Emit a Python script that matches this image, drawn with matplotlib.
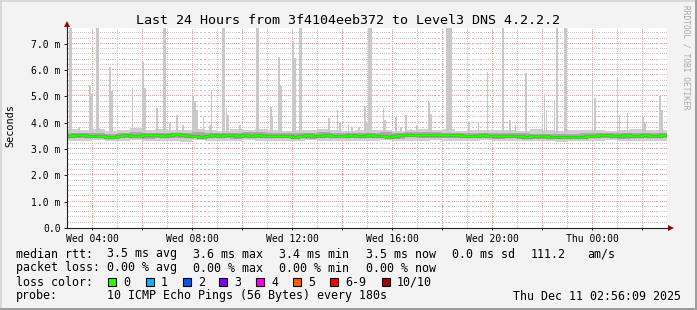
import matplotlib
matplotlib.use("Agg")
import matplotlib.pyplot as plt
import numpy as np
from matplotlib.patches import Rectangle

# ---------------- data (times in hours since Wed 00:00, values in ms) ----------------
start_hour = 3.0
end_hour = 27.0

median_step_min = 15
median_ms = [
    3.50, 3.52, 3.54, 3.51, 3.50, 3.49, 3.46, 3.47, 3.50, 3.52, 3.50, 3.51,
    3.53, 3.55, 3.52, 3.50, 3.54, 3.56, 3.52, 3.50, 3.49, 3.47, 3.50, 3.52,
    3.51, 3.53, 3.52, 3.50, 3.52, 3.51, 3.53, 3.50, 3.49, 3.51, 3.50, 3.48,
    3.47, 3.50, 3.52, 3.51, 3.50, 3.52, 3.50, 3.51, 3.49, 3.52, 3.50, 3.51,
    3.53, 3.50, 3.49, 3.47, 3.50, 3.53, 3.52, 3.54, 3.53, 3.55, 3.54, 3.53,
    3.55, 3.54, 3.52, 3.50, 3.51, 3.50, 3.52, 3.51, 3.50, 3.49, 3.51, 3.50,
    3.48, 3.47, 3.49, 3.48, 3.50, 3.47, 3.46, 3.45, 3.46, 3.44, 3.47, 3.48,
    3.49, 3.52, 3.53, 3.51, 3.50, 3.52, 3.51, 3.50, 3.52, 3.50, 3.51, 3.52,
]

band_step_min = 30
outer_hi_ms = [
    3.78, 3.72, 3.75, 3.70, 3.74, 3.80, 3.72, 3.76, 3.71, 3.74, 3.77, 3.72,
    3.70, 3.75, 3.73, 3.78, 3.72, 3.70, 3.74, 3.71, 3.76, 3.73, 3.70, 3.72,
    3.74, 3.71, 3.69, 3.73, 3.75, 3.72, 3.76, 3.70, 3.73, 3.71, 3.74, 3.72,
    3.70, 3.75, 3.72, 3.69, 3.73, 3.71, 3.74, 3.70, 3.72, 3.75, 3.71, 3.73,
]
outer_lo_ms = [
    3.32, 3.30, 3.33, 3.29, 3.31, 3.34, 3.30, 3.32, 3.31, 3.28, 3.33, 3.31,
    3.30, 3.32, 3.34, 3.31, 3.29, 3.32, 3.30, 3.33, 3.31, 3.30, 3.32, 3.29,
    3.31, 3.33, 3.30, 3.32, 3.31, 3.34, 3.32, 3.30, 3.31, 3.33, 3.30, 3.32,
    3.29, 3.31, 3.30, 3.28, 3.30, 3.32, 3.31, 3.33, 3.30, 3.32, 3.31, 3.30,
]
inner_hi_ms = [
    3.61, 3.60, 3.62, 3.59, 3.60, 3.63, 3.61, 3.60, 3.62, 3.61, 3.64, 3.62,
    3.60, 3.61, 3.63, 3.65, 3.62, 3.61, 3.60, 3.62, 3.63, 3.61, 3.62, 3.60,
    3.61, 3.63, 3.62, 3.64, 3.65, 3.63, 3.62, 3.61, 3.62, 3.60, 3.61, 3.62,
    3.60, 3.59, 3.58, 3.57, 3.59, 3.62, 3.61, 3.62, 3.60, 3.61, 3.62, 3.61,
]
inner_lo_ms = [
    3.42, 3.41, 3.43, 3.40, 3.41, 3.42, 3.40, 3.43, 3.41, 3.42, 3.44, 3.42,
    3.41, 3.40, 3.43, 3.42, 3.41, 3.43, 3.42, 3.40, 3.42, 3.41, 3.43, 3.42,
    3.41, 3.42, 3.40, 3.44, 3.43, 3.42, 3.41, 3.43, 3.42, 3.41, 3.40, 3.42,
    3.39, 3.38, 3.37, 3.38, 3.40, 3.42, 3.41, 3.42, 3.40, 3.41, 3.42, 3.41,
]

# individual high pings (smoke spikes)
spike_hour = [
    3.14, 3.48, 3.92, 4.00, 4.20, 4.28, 4.72, 4.80, 5.62, 6.04, 6.12, 6.60,
    6.90, 7.12, 7.40, 7.64, 8.04, 8.12, 8.20, 8.46, 8.72, 8.78, 8.84, 9.24,
    9.38, 9.44, 9.92, 10.20, 10.62, 11.16, 11.22, 11.48, 11.56, 11.84, 12.04, 12.12,
    12.34, 13.02, 13.48, 13.82, 13.90, 14.26, 14.40, 14.68, 14.92, 15.00, 15.12, 15.66,
    15.72, 15.96, 16.16, 16.36, 16.56, 16.76, 17.00, 17.48, 17.56, 18.20, 18.34, 18.62,
    19.08, 19.46, 19.82, 20.44, 20.72, 20.94, 21.36, 22.02, 22.10, 22.18, 22.50, 22.60,
    22.94, 24.02, 24.10, 24.94, 25.02, 25.08, 25.42, 26.04, 26.12, 26.72, 26.80,
]
spike_top_ms = [
    7.6, 3.84, 5.44, 5.10, 7.6, 3.80, 6.10, 5.20, 5.33, 6.32, 5.33, 4.57,
    7.6, 4.00, 4.30, 3.90, 5.00, 4.83, 4.50, 4.20, 3.90, 5.25, 4.60, 7.6,
    4.55, 4.30, 3.90, 4.00, 7.6, 4.60, 4.20, 6.50, 5.40, 3.70, 7.07, 6.45,
    7.6, 3.84, 4.17, 4.50, 4.00, 3.90, 3.84, 3.84, 4.63, 4.00, 7.6, 4.57,
    4.10, 3.70, 4.20, 3.84, 4.30, 3.77, 3.90, 4.80, 4.33, 7.6, 7.6, 3.70,
    4.00, 3.98, 5.93, 7.6, 4.10, 3.90, 5.90, 4.20, 5.10, 4.50, 4.87, 7.6,
    7.6, 5.60, 4.95, 3.60, 5.75, 4.30, 4.37, 4.20, 4.00, 5.00, 4.50,
]
spike_width_min = [
    7.2, 4.8, 4.8, 3.6, 7.2, 2.4, 4.8, 3.6, 3.6, 4.8, 3.6, 3.6,
    7.2, 4.8, 3.6, 3.6, 4.8, 4.8, 3.6, 3.6, 3.6, 3.6, 2.4, 7.2,
    3.6, 3.6, 3.6, 2.4, 7.2, 3.6, 2.4, 4.8, 3.6, 2.4, 4.8, 4.8,
    7.2, 3.6, 3.6, 3.6, 4.8, 3.6, 3.6, 3.6, 4.8, 4.8, 9.6, 3.6,
    3.6, 2.4, 3.6, 3.6, 3.6, 3.6, 3.6, 4.8, 3.6, 7.2, 7.2, 3.6,
    4.8, 3.6, 3.6, 6.0, 4.8, 3.6, 4.8, 3.6, 3.6, 3.6, 3.6, 6.0,
    8.4, 3.6, 4.8, 3.6, 3.6, 2.4, 3.6, 4.8, 3.6, 4.8, 3.6,
]

xtick_hours = [4, 8, 12, 16, 20, 24]
xtick_labels = ["Wed 04:00", "Wed 08:00", "Wed 12:00", "Wed 16:00", "Wed 20:00", "Thu 00:00"]
ytick_values = [0, 1, 2, 3, 4, 5, 6, 7]
ytick_labels = ["0.0", "1.0 m", "2.0 m", "3.0 m", "4.0 m", "5.0 m", "6.0 m", "7.0 m"]

rtt_names = ["avg", "max", "min", "now"]
rtt_values = [3.5, 3.6, 3.4, 3.5]
loss_values = [0.00, 0.00, 0.00, 0.00]
rtt_sd = 0.0
rtt_am_s = 111.2
loss_names = ["0", "1", "2", "3", "4", "5", "6-9", "10/10"]
loss_colors = ["#26ff00", "#00b8ff", "#0059ff", "#7e00ff", "#ff00ea", "#ff5e00", "#ff0000", "#a10000"]
probe_text = "10 ICMP Echo Pings (56 Bytes) every 180s"
stamp_text = "Thu Dec 11 02:56:09 2025"
title_text = "Last 24 Hours from 3f4104eeb372 to Level3 DNS 4.2.2.2"

# ---------------- figure ----------------
W, H = 697, 310
MONO = "DejaVu Sans Mono"
plt.rcParams["font.family"] = [MONO, "DejaVu Sans"]

fig = plt.figure(figsize=(W / 100, H / 100), dpi=100, facecolor="#f3f3f3")

def fx(px):
    return px / W

def fy(py):
    return 1 - py / H

# 3D style frame
fig.add_artist(Rectangle((0, fy(2)), 1, 2 / H, transform=fig.transFigure, color="#d8d8d8", lw=0))
fig.add_artist(Rectangle((0, 0), 2 / W, 1, transform=fig.transFigure, color="#d8d8d8", lw=0))
fig.add_artist(Rectangle((0, 0), 1, 2 / H, transform=fig.transFigure, color="#9e9e9e", lw=0))
fig.add_artist(Rectangle((fx(W - 2), 0), 2 / W, 1, transform=fig.transFigure, color="#9e9e9e", lw=0))

AX_L, AX_B, AX_W, AX_H = 67, 228, 600, 200   # pixels (left, bottom-from-top, width, height)
ax = fig.add_axes([fx(AX_L), fy(AX_B), AX_W / W, AX_H / H])
ax.set_facecolor("white")
ax.set_xlim(start_hour, end_hour)
ax.set_ylim(0, 7.6)

# smoke
t_band = start_hour + np.arange(len(outer_hi_ms) + 1) * band_step_min / 60
ax.fill_between(t_band, outer_lo_ms + [outer_lo_ms[-1]], outer_hi_ms + [outer_hi_ms[-1]],
                step="post", color="#cfcfcf", lw=0, zorder=2)
ax.bar(spike_hour, np.array(spike_top_ms) - 3.45, bottom=3.45,
       width=np.array(spike_width_min) / 60, color="#c9c9c9", lw=0, zorder=2)
ax.fill_between(t_band, inner_lo_ms + [inner_lo_ms[-1]], inner_hi_ms + [inner_hi_ms[-1]],
                step="post", color="#ababab", lw=0, zorder=3)

t_med = start_hour + np.arange(len(median_ms) + 1) * median_step_min / 60
ax.plot(t_med, median_ms + [median_ms[-1]], drawstyle="steps-post", color="#505050",
        lw=2.3, zorder=4, solid_joinstyle="miter", alpha=0.8)
ax.plot(t_med, median_ms + [median_ms[-1]], drawstyle="steps-post", color=loss_colors[0],
        lw=1.8, zorder=5, solid_joinstyle="miter")

# ticks
ax.set_xticks(np.arange(4, 27, 2))
ax.set_xticklabels([xtick_labels[xtick_hours.index(h)] if h in xtick_hours else "" for h in range(4, 27, 2)])
ax.set_xticks(np.arange(3, 28, 1), minor=True)
ax.set_yticks(ytick_values)
ax.set_yticklabels(ytick_labels)
ax.set_yticks(np.arange(0, 7.61, 0.2), minor=True)

# dotted grid drawn as single pixels every 2 px (RRDtool style), behind the data
x_span = end_hour - start_hour
y_top = 7.6
dot_x = start_hour + (np.arange(0.5, AX_W, 2.0)) / AX_W * x_span
dot_y = (np.arange(0.5, AX_H, 2.0)) / AX_H * y_top
MAJ_C, MIN_C = "#ff9898", "#c8c8c8"
for h in np.arange(4, 27, 1):
    major = (h % 2 == 0)
    ax.plot(np.full_like(dot_y, h), dot_y, ls="none", marker=",", color=MAJ_C if major else MIN_C,
            zorder=1 if major else 0.5)
for k in range(1, 39):
    v = k * 0.2
    major = (k % 5 == 0)
    ax.plot(dot_x, np.full_like(dot_x, v), ls="none", marker=",", color=MAJ_C if major else MIN_C,
            zorder=1 if major else 0.5)

for s in ["top", "right"]:
    ax.spines[s].set_visible(False)
for s in ["left", "bottom"]:
    ax.spines[s].set_color("#202020")
    ax.spines[s].set_linewidth(0.8)
    ax.spines[s].set_zorder(6)

ax.tick_params(axis="x", which="major", length=1.5, width=0.7, color="#202020", labelsize=7.05, pad=2.6)
ax.tick_params(axis="x", which="minor", length=0)
ax.tick_params(axis="y", which="major", length=2.2, width=0.7, color="#202020", labelsize=7.05, pad=2.4)
ax.tick_params(axis="y", which="minor", length=0)
for lab in ax.get_xticklabels() + ax.get_yticklabels():
    lab.set_family(MONO)

# arrows
ax.plot([0], [1.02], transform=ax.transAxes, marker="^", ms=4.5, color="#a00000",
        clip_on=False, zorder=7, mew=0)
ax.plot([1.007], [0], transform=ax.transAxes, marker=">", ms=4.5, color="#a00000",
        clip_on=False, zorder=7, mew=0)
ax.plot([0, 0], [1.0, 1.02], transform=ax.transAxes, color="#202020", lw=0.8, clip_on=False, zorder=6)
ax.plot([1.0, 1.007], [0, 0], transform=ax.transAxes, color="#202020", lw=0.8, clip_on=False, zorder=6)

ax.set_ylabel("Seconds", family=MONO, fontsize=7.3)
ax.yaxis.set_label_coords((10 - 67) / 600, (228 - 126) / 200)
ax.yaxis.label.set_va("center")

# title & side text
fig.text(fx(348), fy(24), title_text, ha="center", va="baseline", fontsize=9.6, family=MONO)
fig.text(fx(686), fy(57), "RRDTOOL / TOBI OETIKER", ha="center", va="center", rotation=270,
         fontsize=5.7, family=MONO, color="#a8a8a8")

# legend
LFS = 8.4
col_x = [107, 193, 279, 366]
rows_y = [257.5, 271.5, 285.5, 299.5]
fig.text(fx(16), fy(rows_y[0]), "median rtt:", fontsize=LFS, family=MONO, va="baseline")
for x, n, v in zip(col_x, rtt_names, rtt_values):
    fig.text(fx(x), fy(rows_y[0]), f"{v:.1f} ms {n}", fontsize=LFS, family=MONO, va="baseline")
fig.text(fx(452), fy(rows_y[0]), f"{rtt_sd:.1f} ms sd", fontsize=LFS, family=MONO, va="baseline")
fig.text(fx(531), fy(rows_y[0]), f"{rtt_am_s:.1f}", fontsize=LFS, family=MONO, va="baseline")
fig.text(fx(587), fy(rows_y[0]), "am/s", fontsize=LFS, family=MONO, va="baseline")

fig.text(fx(16), fy(rows_y[1]), "packet loss:", fontsize=LFS, family=MONO, va="baseline")
for x, n, v in zip(col_x, rtt_names, loss_values):
    fig.text(fx(x), fy(rows_y[1]), f"{v:.2f} % {n}", fontsize=LFS, family=MONO, va="baseline")

fig.text(fx(16), fy(rows_y[2]), "loss color:", fontsize=LFS, family=MONO, va="baseline")
box_x = [108, 146, 183, 219, 256, 293, 330, 382]
for x, n, c in zip(box_x, loss_names, loss_colors):
    fig.add_artist(Rectangle((fx(x), fy(286)), 8 / W, 8 / H, transform=fig.transFigure,
                             facecolor=c, edgecolor="black", lw=0.8))
    fig.text(fx(x + 15), fy(rows_y[2]), n, fontsize=LFS, family=MONO, va="baseline")

fig.text(fx(16), fy(rows_y[3]), "probe:", fontsize=LFS, family=MONO, va="baseline")
fig.text(fx(107), fy(rows_y[3]), probe_text, fontsize=LFS, family=MONO, va="baseline")
fig.text(fx(681), fy(rows_y[3]), stamp_text, fontsize=LFS, family=MONO, va="baseline", ha="right")

fig.savefig("out.png", dpi=100, facecolor=fig.get_facecolor())
